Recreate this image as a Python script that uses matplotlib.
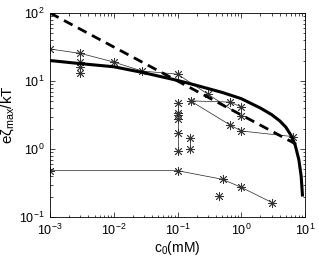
import matplotlib
matplotlib.use("Agg")
import matplotlib.pyplot as plt
from matplotlib.ticker import LogLocator, NullFormatter

plt.rcParams['font.family'] = ['Liberation Sans', 'DejaVu Sans']
plt.rcParams['mathtext.default'] = 'regular'
plt.rcParams['font.size'] = 9

# Thick theory curve
theory_c = [1e-3, 3e-3, 1e-2, 3e-2, 0.1, 0.2, 0.5, 1.0, 2.0, 3.0, 4.0, 5.0, 6.0, 7.0, 8.0, 8.7, 9.15]
theory_y = [20.0, 18.0, 16.2, 13.2, 10.2, 8.6, 6.8, 5.5, 4.0, 3.2, 2.6, 2.1, 1.6, 1.15, 0.7, 0.4, 0.2]

# Dashed limit line
dash_c = [1e-3, 7.6]
dash_y = [100.0, 1.15]

# Experimental series (thin lines with asterisks)
sA_c = [1e-3, 3e-3, 1e-2, 0.028, 0.1, 0.3, 1.0]
sA_y = [29.5, 25.5, 19.0, 14.0, 12.6, 6.4, 3.05]

sB_c = [0.16, 0.67, 1.0]
sB_y = [5.1, 4.9, 4.15]

sC_c = [0.16, 0.67, 1.0, 6.5]
sC_y = [5.1, 2.25, 1.84, 1.52]

sD_c = [0.1, 0.1, 0.1, 0.1, 0.1, 0.1]
sD_y = [4.7, 3.42, 3.16, 2.74, 1.70, 0.94]

sE_c = [0.158, 0.158]
sE_y = [1.44, 1.0]

sF_c = [1e-3, 0.1, 0.51, 1.0, 3.08]
sF_y = [0.48, 0.48, 0.358, 0.273, 0.162]

iso_c = [3e-3, 3e-3, 3e-3, 0.45]
iso_y = [19.2, 16.2, 13.0, 0.204]

fig = plt.figure(figsize=(3.19, 2.57), dpi=100)
ax = fig.add_axes([50/319, 1-217/257, (305-50)/319, (217-13)/257])

mk = dict(marker=(8, 2, 0), markersize=6.5, markeredgewidth=0.6,
          color='#222222', linewidth=0.5, markeredgecolor='#333333')
for c, y in [(sA_c, sA_y), (sB_c, sB_y), (sC_c, sC_y), (sD_c, sD_y),
             (sE_c, sE_y), (sF_c, sF_y)]:
    ax.plot(c, y, **mk)
ax.plot(iso_c, iso_y, linestyle='none', **{k: v for k, v in mk.items() if k != 'linewidth'})

ax.plot(theory_c, theory_y, color='black', linewidth=2.2, solid_capstyle='butt',
        solid_joinstyle='round')
ax.plot(dash_c, dash_y, color='black', linewidth=2.0, dashes=(3.5, 2.2))

ax.set_xscale('log')
ax.set_yscale('log')
ax.set_xlim(1e-3, 1e1)
ax.set_ylim(1e-1, 1e2)
ax.xaxis.set_major_locator(LogLocator(base=10, numticks=10))
ax.yaxis.set_major_locator(LogLocator(base=10, numticks=10))
ax.xaxis.set_minor_locator(LogLocator(base=10, subs=range(2, 10), numticks=10))
ax.yaxis.set_minor_locator(LogLocator(base=10, subs=range(2, 10), numticks=10))
ax.xaxis.set_minor_formatter(NullFormatter())
ax.yaxis.set_minor_formatter(NullFormatter())
ax.tick_params(which='both', direction='in', top=True, right=True, width=0.5)
ax.tick_params(which='major', length=3.5, labelsize=9, pad=4)
ax.tick_params(which='minor', length=1.8)
for s in ax.spines.values():
    s.set_linewidth(0.6)

ax.set_xlabel('c$_0$(mM)', fontsize=10, labelpad=1)
ax.set_ylabel(r'e$\zeta_{max}$/kT', fontsize=11, labelpad=2)

fig.savefig('out.png', dpi=100)
